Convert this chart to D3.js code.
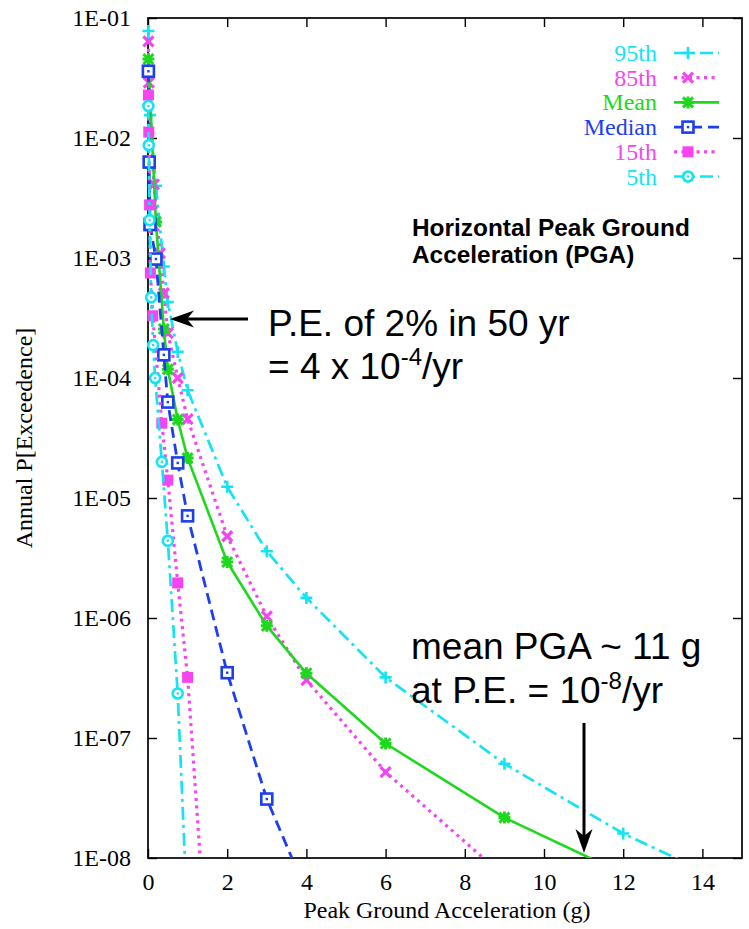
<!DOCTYPE html>
<html>
<head>
<meta charset="utf-8">
<script src="https://cdn.jsdelivr.net/npm/d3@7"></script>
<style>
  html, body { margin: 0; padding: 0; background: #fff; }
  svg { display: block; }
</style>
</head>
<body>
<svg id="chart" width="749" height="929"></svg>
<script>
// ---- data: PGA (g) and annual probability of exceedance for each fractile curve ----
const pga95  = [0.01, 0.05, 0.2, 0.4, 0.5, 0.75, 1, 2, 3, 4, 6, 9, 12, 15];
const pe95   = [7.8e-2, 1.55e-2, 4.0e-3, 8.5e-4, 4.3e-4, 1.65e-4, 7.9e-5, 1.24e-5, 3.6e-6, 1.47e-6, 3.2e-7, 6.1e-8, 1.6e-8, 5.5e-9];

const pga85  = [0.01, 0.02, 0.15, 0.3, 0.4, 0.5, 0.75, 1, 2, 3, 4, 6, 9];
const pe85   = [6.4e-2, 2.9e-2, 4.1e-3, 1.1e-3, 5.1e-4, 2.37e-4, 1.0e-4, 4.55e-5, 4.8e-6, 1.03e-6, 3.04e-7, 5.2e-8, 7.0e-9];

const pgaMean = [0.01, 0.2, 0.4, 0.5, 0.75, 1, 2, 3, 4, 6, 9, 12];
const peMean  = [4.55e-2, 2.0e-3, 2.56e-4, 1.18e-4, 4.5e-5, 2.15e-5, 2.93e-6, 8.6e-7, 3.46e-7, 9.0e-8, 2.17e-8, 7.4e-9];

const pgaMedian = [0.01, 0.03, 0.05, 0.2, 0.4, 0.5, 0.75, 1, 2, 3, 4];
const peMedian  = [3.6e-2, 6.3e-3, 1.9e-3, 9.8e-4, 1.56e-4, 6.3e-5, 1.96e-5, 7.1e-6, 3.5e-7, 3.1e-8, 5.2e-9];

const pga15  = [0.01, 0.02, 0.04, 0.06, 0.12, 0.35, 0.5, 0.75, 1, 2];
const pe15   = [2.28e-2, 1.12e-2, 2.77e-3, 7.5e-4, 3.3e-4, 4.2e-5, 1.41e-5, 1.96e-6, 3.2e-7, 6e-12];

const pga5   = [0.01, 0.02, 0.04, 0.08, 0.13, 0.18, 0.35, 0.5, 0.75, 1];
const pe5    = [1.85e-2, 8.7e-3, 2.07e-3, 4.7e-4, 1.88e-4, 1.0e-4, 2.0e-5, 4.4e-6, 2.35e-7, 3e-9];

const seriesNames = ["95th", "85th", "Mean", "Median", "15th", "5th"];

const xTickValues = [0, 2, 4, 6, 8, 10, 12, 14];
const yTickValues = [1e-8, 1e-7, 1e-6, 1e-5, 1e-4, 1e-3, 1e-2, 1e-1];
const yTickLabels = ["1E-08", "1E-07", "1E-06", "1E-05", "1E-04", "1E-03", "1E-02", "1E-01"];

// ---- styling per curve ----
const styles = {
  "95th":   { color: "#14e3f3", dash: "13,5,3,5", width: 2.7, marker: "plus" },
  "85th":   { color: "#f545f2", dash: "3,4.5",    width: 3.2, marker: "cross" },
  "Mean":   { color: "#1ed81e", dash: null,       width: 2.6, marker: "star" },
  "Median": { color: "#1d3ff0", dash: "11,6",     width: 2.8, marker: "boxdot" },
  "15th":   { color: "#f545f2", dash: "3,4.5",    width: 3.2, marker: "fbox" },
  "5th":    { color: "#14e3f3", dash: "13,5,3,5", width: 2.7, marker: "circdot" }
};

const curves = [
  { name: "95th",   x: pga95,     y: pe95 },
  { name: "85th",   x: pga85,     y: pe85 },
  { name: "Mean",   x: pgaMean,   y: peMean },
  { name: "Median", x: pgaMedian, y: peMedian },
  { name: "15th",   x: pga15,     y: pe15 },
  { name: "5th",    x: pga5,      y: pe5 }
];

// ---- layout ----
const plot = { left: 148, right: 742, top: 18, bottom: 858 };
const serif = "'Liberation Serif', 'Times New Roman', serif";
const sans = "'Liberation Sans', Arial, Helvetica, sans-serif";

const svg = d3.select("#chart");

const x = d3.scaleLinear().domain([0, 15]).range([plot.left, plot.right]);
const y = d3.scaleLog().domain([1e-8, 1e-1]).range([plot.bottom, plot.top]);

// clip: curves are cut at the bottom and right of the frame, markers near x=0 may overhang the left axis
svg.append("defs").append("clipPath").attr("id", "plotClip")
  .append("rect")
  .attr("x", plot.left - 20).attr("y", 0)
  .attr("width", plot.right - plot.left + 20)
  .attr("height", plot.bottom);

// ---- axes (mirrored inward ticks on all four sides) ----
const tickLen = 9;

const gLeft = svg.append("g").attr("transform", `translate(${plot.left},0)`)
  .call(d3.axisLeft(y).tickValues(yTickValues)
    .tickFormat((d, i) => yTickLabels[i]).tickSize(-tickLen).tickSizeOuter(0).tickPadding(17));
const gRight = svg.append("g").attr("transform", `translate(${plot.right},0)`)
  .call(d3.axisRight(y).tickValues(yTickValues).tickFormat("").tickSize(-tickLen).tickSizeOuter(0));
const gBottom = svg.append("g").attr("transform", `translate(0,${plot.bottom})`)
  .call(d3.axisBottom(x).tickValues(xTickValues).tickFormat(d3.format("d"))
    .tickSize(-tickLen).tickSizeOuter(0).tickPadding(15));
const gTop = svg.append("g").attr("transform", `translate(0,${plot.top})`)
  .call(d3.axisTop(x).tickValues(xTickValues).tickFormat("").tickSize(-tickLen).tickSizeOuter(0));

[gLeft, gRight, gBottom, gTop].forEach(g => {
  g.select(".domain").remove();
  g.selectAll(".tick line").attr("stroke", "#000").attr("stroke-width", 1.4);
  g.selectAll(".tick text").attr("font-family", serif).attr("font-size", 24).attr("fill", "#000");
});
gBottom.selectAll(".tick text").attr("dy", "0.71em");

svg.append("rect")
  .attr("x", plot.left).attr("y", plot.top)
  .attr("width", plot.right - plot.left).attr("height", plot.bottom - plot.top)
  .attr("fill", "none").attr("stroke", "#000").attr("stroke-width", 1.7);

// axis titles
svg.append("text")
  .attr("x", (plot.left + plot.right) / 2 + 2).attr("y", 918)
  .attr("text-anchor", "middle")
  .attr("font-family", serif).attr("font-size", 24).attr("fill", "#000")
  .text("Peak Ground Acceleration (g)");

svg.append("text")
  .attr("transform", "translate(32,438) rotate(-90)")
  .attr("text-anchor", "middle")
  .attr("font-family", serif).attr("font-size", 24).attr("fill", "#000")
  .text("Annual P[Exceedence]");

// ---- markers ----
function drawMarker(g, type, color, cx, cy) {
  const m = g.append("g").attr("transform", `translate(${cx},${cy})`);
  if (type === "plus") {
    m.append("path").attr("d", "M-6,0H6M0,-6V6").attr("stroke", color).attr("stroke-width", 2.6).attr("fill", "none");
  } else if (type === "cross") {
    m.append("path").attr("d", "M-5,-5L5,5M-5,5L5,-5").attr("stroke", color).attr("stroke-width", 3.2).attr("fill", "none");
  } else if (type === "star") {
    m.append("path").attr("d", "M-6,0H6M0,-6V6M-5,-5L5,5M-5,5L5,-5")
      .attr("stroke", color).attr("stroke-width", 3).attr("fill", "none");
  } else if (type === "boxdot") {
    m.append("rect").attr("x", -5.5).attr("y", -5.5).attr("width", 11).attr("height", 11)
      .attr("fill", "#fff").attr("stroke", color).attr("stroke-width", 2.6);
    m.append("rect").attr("x", -1.2).attr("y", -1.2).attr("width", 2.4).attr("height", 2.4).attr("fill", color);
  } else if (type === "fbox") {
    m.append("rect").attr("x", -5.5).attr("y", -5.5).attr("width", 11).attr("height", 11).attr("fill", color);
  } else if (type === "circdot") {
    m.append("circle").attr("r", 5).attr("fill", "#fff").attr("stroke", color).attr("stroke-width", 2.6);
    m.append("circle").attr("r", 1.3).attr("fill", color);
  }
}

// ---- curves ----
const gCurves = svg.append("g").attr("clip-path", "url(#plotClip)");
const line = d3.line().x(d => x(d[0])).y(d => y(d[1]));

curves.forEach(c => {
  const st = styles[c.name];
  const pts = c.x.map((v, i) => [v, c.y[i]]);
  const g = gCurves.append("g");
  g.append("path")
    .attr("d", line(pts))
    .attr("fill", "none")
    .attr("stroke", st.color)
    .attr("stroke-width", st.width)
    .attr("stroke-dasharray", st.dash)
    .attr("stroke-linejoin", "round");
  pts.forEach(p => drawMarker(g, st.marker, st.color, x(p[0]), y(p[1])));
});

// ---- legend ----
const legend = svg.append("g");
seriesNames.forEach((name, i) => {
  const st = styles[name];
  const cy = 53 + i * 24.7;
  legend.append("text")
    .attr("x", 657).attr("y", cy + 8)
    .attr("text-anchor", "end")
    .attr("font-family", serif).attr("font-size", 24)
    .attr("fill", st.color)
    .text(name);
  legend.append("line")
    .attr("x1", 674).attr("x2", 719).attr("y1", cy).attr("y2", cy)
    .attr("stroke", st.color).attr("stroke-width", st.width)
    .attr("stroke-dasharray", st.dash);
  drawMarker(legend, st.marker, st.color, 688, cy);
});

// ---- annotations ----
const ann = svg.append("g").attr("fill", "#000");

ann.append("text").attr("x", 412).attr("y", 236)
  .attr("font-family", sans).attr("font-weight", "bold").attr("font-size", 24.4)
  .text("Horizontal Peak Ground");
ann.append("text").attr("x", 412).attr("y", 263)
  .attr("font-family", sans).attr("font-weight", "bold").attr("font-size", 24.4)
  .text("Acceleration (PGA)");

ann.append("text").attr("x", 268).attr("y", 336)
  .attr("font-family", sans).attr("font-size", 37)
  .text("P.E. of 2% in 50 yr");
const t2 = ann.append("text").attr("x", 268).attr("y", 379)
  .attr("font-family", sans).attr("font-size", 37);
t2.append("tspan").text("= 4 x 10");
t2.append("tspan").attr("font-size", 24).attr("dy", -14).text("-4");
t2.append("tspan").attr("dy", 14).text("/yr");

ann.append("text").attr("x", 411).attr("y", 659)
  .attr("font-family", sans).attr("font-size", 37)
  .text("mean PGA ~ 11 g");
const t4 = ann.append("text").attr("x", 411).attr("y", 703)
  .attr("font-family", sans).attr("font-size", 37);
t4.append("tspan").text("at P.E. = 10");
t4.append("tspan").attr("font-size", 24).attr("dy", -14).text("-8");
t4.append("tspan").attr("dy", 14).text("/yr");

// call-out arrows with barbed heads
function arrow(x1, y1, x2, y2) {
  const ang = Math.atan2(y2 - y1, x2 - x1);
  const len = 24, half = 8.5, notch = 17;
  const ca = Math.cos(ang), sa = Math.sin(ang);
  const bx = x2 - len * ca, by = y2 - len * sa;
  const nx = x2 - notch * ca, ny = y2 - notch * sa;
  ann.append("line").attr("x1", x1).attr("y1", y1).attr("x2", nx).attr("y2", ny)
    .attr("stroke", "#000").attr("stroke-width", 3);
  ann.append("path")
    .attr("d", `M${x2},${y2}L${bx - half * sa},${by + half * ca}L${nx},${ny}L${bx + half * sa},${by - half * ca}Z`)
    .attr("fill", "#000");
}
arrow(248, 319, 170, 319);
arrow(584, 723, 584, 853);
</script>
</body>
</html>
